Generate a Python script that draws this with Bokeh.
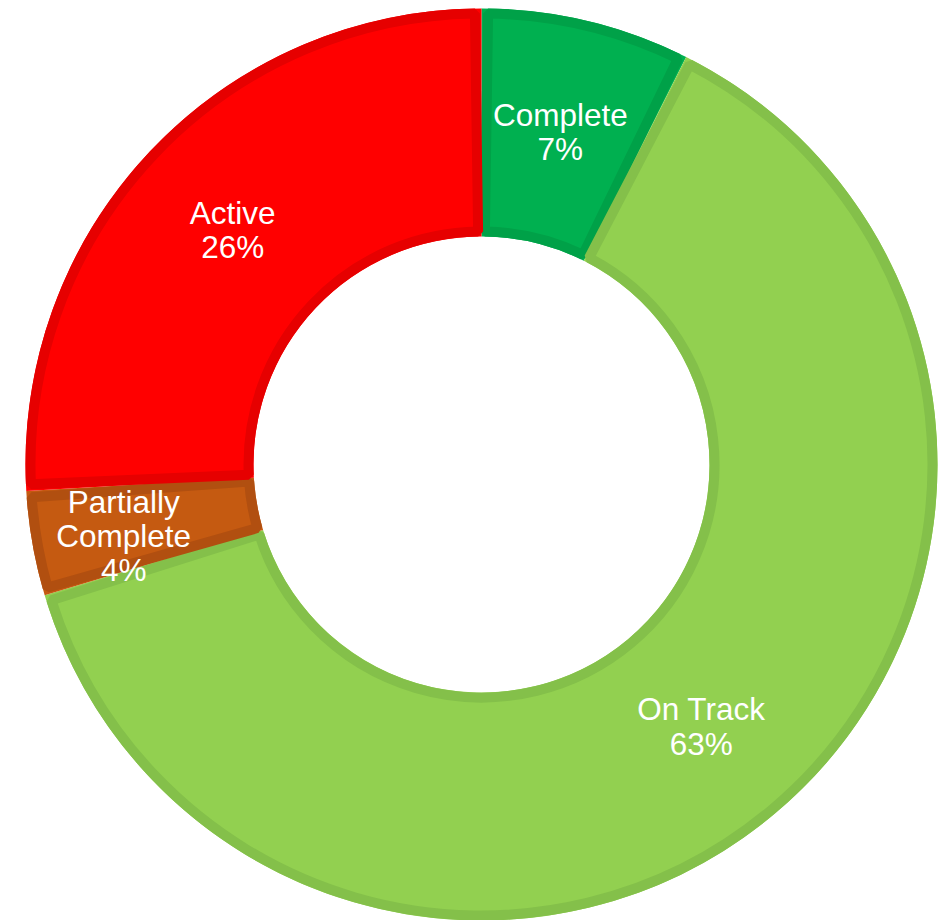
import math
from bokeh.plotting import figure
from bokeh.models import Range1d, ColumnDataSource
from bokeh.core.properties import value
from bokeh.embed import file_html
from bokeh.resources import INLINE

# ---- data ----
categories = ["Complete", "On Track", "Partially\nComplete", "Active"]
counts = [2, 17, 1, 7]
fill_colors = ["#00B050", "#92D050", "#C55A11", "#FF0000"]
border_colors = ["#00A148", "#84C04A", "#B14F10", "#E60000"]

# ---- geometry (screen px) ----
W, H = 948, 920
cx, cy_screen = 481, 464
cy = H - cy_screen  # data y (y up)
R_out, R_in = 456, 228
bw = 10  # border width
label_shift = {"Partially\nComplete": (-21, -12)}  # (dx, dy) in px, y up

total = sum(counts)
starts, ends, mids, pcts = [], [], [], []
cum = 0.0
for c in counts:
    a0 = math.pi / 2 - 2 * math.pi * cum / total
    cum += c
    a1 = math.pi / 2 - 2 * math.pi * cum / total
    starts.append(a0)
    ends.append(a1)
    mids.append((a0 + a1) / 2)
    pcts.append(f"{round(100 * c / total)}%")

rm = (R_out + R_in) / 2
delta = (bw / 2) / rm

src = ColumnDataSource(dict(
    start=starts, end=ends,
    bstart=[s - delta for s in starts], bend=[e + delta for e in ends],
    fill=fill_colors, border=border_colors,
))

p = figure(width=W, height=H, output_backend="svg", toolbar_location=None,
           x_range=Range1d(0, W), y_range=Range1d(0, H),
           min_border=0)
p.axis.visible = False
p.grid.visible = False
p.outline_line_color = None
p.background_fill_color = "white"

p.annular_wedge(x=cx, y=cy, inner_radius=R_in, outer_radius=R_out,
                start_angle="start", end_angle="end", direction="clock",
                fill_color="fill", line_color=None, source=src)
p.annular_wedge(x=cx, y=cy, inner_radius=R_in + bw / 2, outer_radius=R_out - bw / 2,
                start_angle="bstart", end_angle="bend", direction="clock",
                fill_color=None, line_color="border", line_width=bw, source=src)

lx, ly, lt = [], [], []
for cat, m, pc in zip(categories, mids, pcts):
    dx, dy = label_shift.get(cat, (0, 0))
    lx.append(cx + rm * math.cos(m) + dx)
    ly.append(cy + rm * math.sin(m) + dy)
    lt.append(f"{cat}\n{pc}")

p.text(x=lx, y=ly, text=lt, text_color="white", text_font=value("Liberation Sans"),
       text_font_size="31.5px", text_align="center", text_baseline="middle",
       text_line_height=0.95)

open("out.html", "w").write(file_html(p, INLINE))
